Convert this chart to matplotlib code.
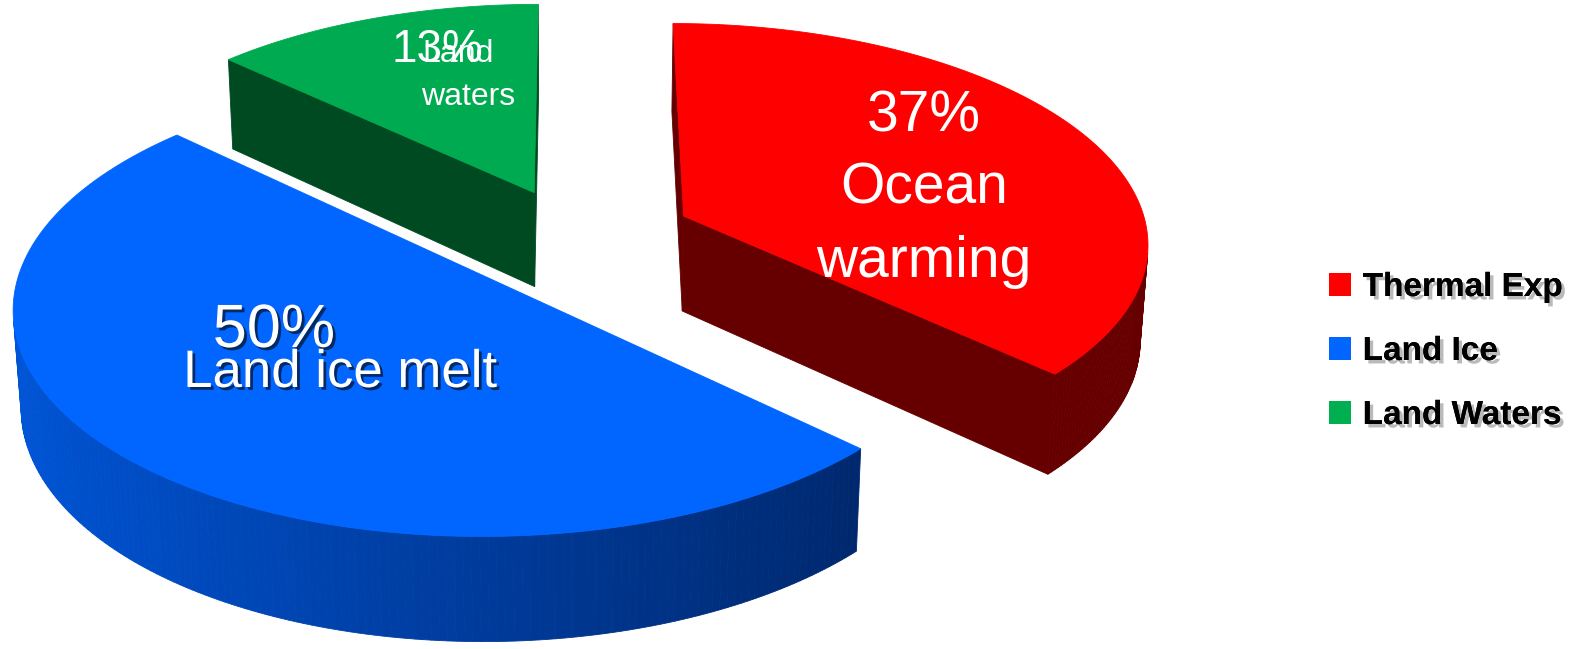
import numpy as np
import matplotlib.pyplot as plt
import matplotlib.patheffects as pe
from matplotlib.patches import Polygon, Patch
from matplotlib.colors import to_rgb

# ----------------------------------------------------------------------
#   Data
# ----------------------------------------------------------------------
categories = ['Thermal Exp', 'Land Ice', 'Land Waters']
shares     = [37, 50, 13]                       # [%]

top_colors   = ['#FF0000', '#0066FF', '#00AA50']
side_left    = ['#660000', '#0055D8', '#004A22']
side_right   = ['#660000', '#00286E', '#004A22']
legend_colors = ['#FF0000', '#0066FF', '#00B050']
explode      = [0.255, 0.257, 0.232]            # pull-out of each slice / radius

# ----------------------------------------------------------------------
#   3D pie geometry (perspective camera looking down on the disk)
# ----------------------------------------------------------------------
DIST    = 8.0               # camera distance / pie radius
ELEV    = np.radians(28)    # camera pitch
FOCAL   = 3722              # [px]
X0, Y0  = 576, 238          # pie centre on the canvas [px]
THICK   = 0.236

cam = np.array([0.0, -DIST*np.cos(ELEV), DIST*np.sin(ELEV)])


def project(x, y, z):
    s, c = np.sin(ELEV), np.cos(ELEV)
    zc = DIST + y*c - z*s
    return X0 + FOCAL*x/zc, Y0 - FOCAL*(y*s + z*c)/zc


def faces_camera(p, n):
    return np.dot(cam - p, n) > 0


def blend(c0, c1, t):
    c0, c1 = np.array(to_rgb(c0)), np.array(to_rgb(c1))
    return tuple(c0 + (c1 - c0)*t)


def draw_slice(ax, a0, a1, pull, top, col_l, col_r):
    mid = np.radians((a0 + a1)/2)
    ox, oy = pull*np.cos(mid), pull*np.sin(mid)
    th = np.radians(np.linspace(a0, a1, 200))
    rx, ry = ox + np.cos(th), oy + np.sin(th)

    # outer wall, shaded from left to right
    for k in range(len(th) - 1):
        tm = 0.5*(th[k] + th[k+1])
        n = np.array([np.cos(tm), np.sin(tm), 0.0])
        p = np.array([ox + np.cos(tm), oy + np.sin(tm), 0.0])
        if not faces_camera(p, n):
            continue
        xs, ys = project(np.array([rx[k], rx[k+1], rx[k+1], rx[k]]),
                         np.array([ry[k], ry[k+1], ry[k+1], ry[k]]),
                         np.array([0, 0, -THICK, -THICK]))
        t = np.clip((np.cos(tm) + 1)/1.73, 0, 1)
        col = blend(col_l, col_r, t)
        ax.add_patch(Polygon(np.c_[xs, ys], closed=True, fc=col, ec=col, lw=0.6))

    # radial cut faces
    for ang, sign in ((a0, 1), (a1, -1)):
        a = np.radians(ang)
        n = sign*np.array([np.cos(a + np.pi/2), np.sin(a + np.pi/2), 0.0])
        p = np.array([ox + 0.5*np.cos(a), oy + 0.5*np.sin(a), 0.0])
        if not faces_camera(p, n):
            continue
        px = np.array([ox, ox + np.cos(a), ox + np.cos(a), ox])
        py = np.array([oy, oy + np.sin(a), oy + np.sin(a), oy])
        xs, ys = project(px, py, np.array([0, 0, -THICK, -THICK]))
        ax.add_patch(Polygon(np.c_[xs, ys], closed=True, fc=col_l, ec=col_l, lw=0.6))

    # top face
    xs, ys = project(np.r_[ox, rx], np.r_[oy, ry], np.zeros(len(th) + 1))
    ax.add_patch(Polygon(np.c_[xs, ys], closed=True, fc=top, ec=top, lw=0.6))


fig = plt.figure(figsize=(15.79, 6.49), dpi=100)
ax = fig.add_axes([0, 0, 1, 1])
ax.set_xlim(0, 1579)
ax.set_ylim(649, 0)
ax.axis('off')

# slices run clockwise from 12 o'clock; draw the farthest first
starts = 90 - 3.6*np.r_[0, np.cumsum(shares)[:-1]]
ends = starts - 3.6*np.array(shares)
mids = np.radians((starts + ends)/2)
for i in np.argsort(-np.sin(mids)):
    draw_slice(ax, starts[i], ends[i], explode[i], top_colors[i], side_left[i], side_right[i])

# ----------------------------------------------------------------------
#   Labels
# ----------------------------------------------------------------------
font = ['Liberation Sans', 'DejaVu Sans']
shadow = [pe.withSimplePatchShadow(offset=(2, -2), shadow_rgbFace='#001a40', alpha=0.8)]
label_kw = dict(color='white', family=font, ha='center', va='baseline')

for line, y in zip([f'{shares[0]}%', 'Ocean', 'warming'], [131, 203, 277]):
    ax.text(924, y, line, fontsize=41, **label_kw)
ax.text(274, 347, f'{shares[1]}%', fontsize=44, path_effects=shadow, **label_kw)
ax.text(340, 387, 'Land ice melt', fontsize=38, path_effects=shadow, **label_kw)
ax.text(458, 62, 'Land', fontsize=23, **label_kw)
ax.text(468, 105, 'waters', fontsize=23, **label_kw)
ax.text(437, 62, f'{shares[2]}%', fontsize=33, **label_kw)

# legend
handles = [Patch(facecolor=c, edgecolor='none') for c in legend_colors]
leg = ax.legend(handles, categories, loc='upper left', bbox_to_anchor=(1329, 272),
                bbox_transform=ax.transData, frameon=False,
                prop={'family': font, 'weight': 'bold', 'size': 24},
                handlelength=0.66, handleheight=0.66, handletextpad=0.35,
                labelspacing=0.99, borderpad=0, borderaxespad=0)
for t in leg.get_texts():
    t.set_path_effects([pe.withSimplePatchShadow(offset=(2.5, -2.5),
                                                 shadow_rgbFace='#666666', alpha=0.45),
                        pe.Normal()])

fig.savefig('out.png', dpi=100)
